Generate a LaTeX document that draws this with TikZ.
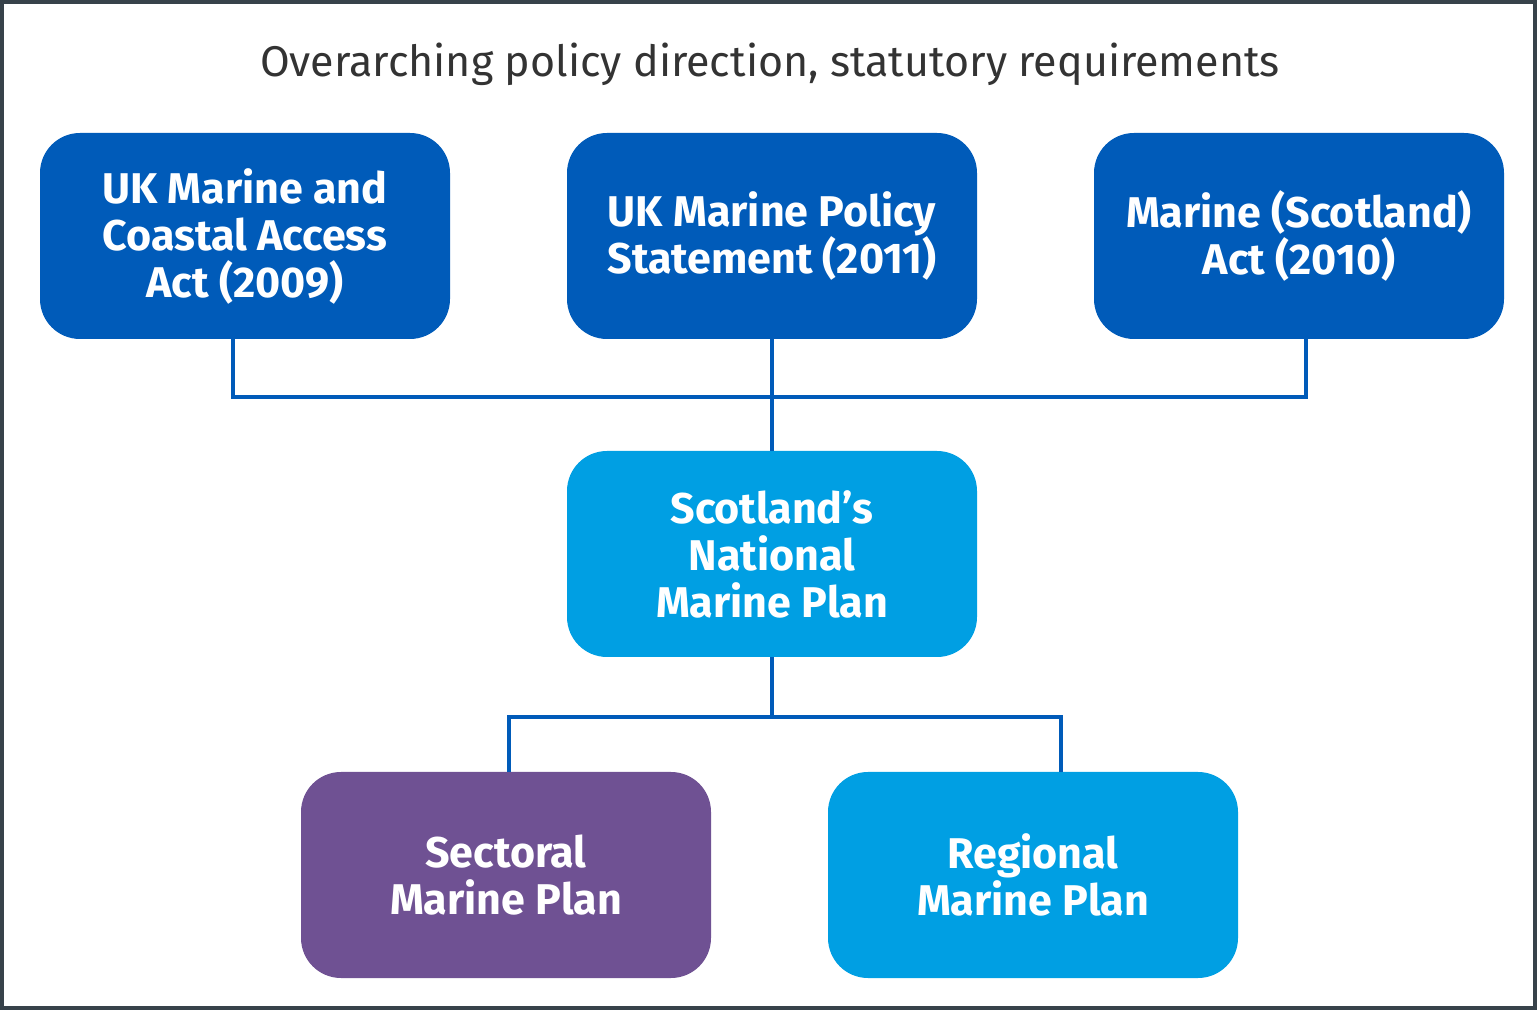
\documentclass[tikz,border=0pt]{standalone}
\usepackage{fontspec}
\setmainfont{Fira Sans}
\definecolor{dblue}{HTML}{005BB9}
\definecolor{lblue}{HTML}{009FE3}
\definecolor{purp}{HTML}{6F5193}
\definecolor{frame}{HTML}{37424A}
\definecolor{ttl}{HTML}{333333}
\begin{document}
\begin{tikzpicture}[x=1pt,y=1pt,
  box/.style={rectangle,rounded corners=40pt,minimum width=410pt,minimum height=206pt,
    text=white,align=center,inner sep=0pt,
    font=\fontsize{43}{47}\selectfont\bfseries},
  conn/.style={draw=dblue,line width=3.5pt}]
\useasboundingbox (0,0) rectangle (1537,1010);
\draw[frame,line width=4pt] (2,2) rectangle (1535,1008);
\node[text=ttl,font=\fontsize{43}{47}\selectfont] (title) at (770,946) {Overarching policy direction, statutory requirements};
\node[box,fill=dblue] (a) at (245,774) {UK Marine and\\Coastal Access\\Act (2009)};
\node[box,fill=dblue] (b) at (772,774) {UK Marine Policy\\Statement (2011)};
\node[box,fill=dblue] (c) at (1299,774) {Marine (Scotland)\\Act (2010)};
\node[box,fill=lblue] (m) at (772,456) {Scotland’s\\National\\Marine Plan};
\node[box,fill=purp] (s) at (506,135) {Sectoral\\Marine Plan};
\node[box,fill=lblue] (r) at (1033,135) {Regional\\Marine Plan};
\coordinate (j1) at (772,613);
\coordinate (j2) at (772,293);
\draw[conn] (a.south -| 233,0) |- (j1) -| (c.south -| 1306,0);
\draw[conn] (b.south) -- (m.north);
\draw[conn] (s.north -| 509,0) |- (j2) -| (r.north -| 1061,0);
\draw[conn] (m.south) -- (j2);
\end{tikzpicture}
\end{document}
